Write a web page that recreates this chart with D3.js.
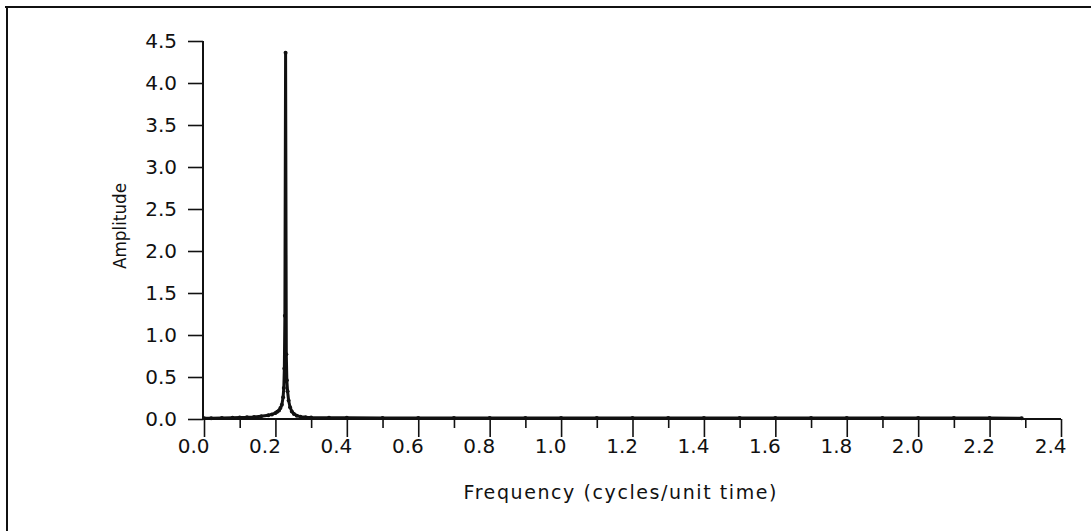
<!DOCTYPE html>
<html>
<head>
<meta charset="utf-8">
<script src="https://cdn.jsdelivr.net/npm/d3@7"></script>
<style>
  html, body { margin: 0; padding: 0; background: #fff; }
  svg { display: block; }
  text { font-family: "DejaVu Sans", sans-serif; fill: #111; }
</style>
</head>
<body>
<svg id="chart" width="1091" height="531"></svg>
<script>
// ---- data ----
const frequency = [
  0.000, 0.020, 0.050, 0.080, 0.100, 0.120, 0.140, 0.160, 0.180, 0.190,
  0.200, 0.205, 0.210, 0.214, 0.218, 0.2215, 0.2235, 0.2250, 0.2265, 0.2285,
  0.2305, 0.2320, 0.2340, 0.2370, 0.2410, 0.2460, 0.2520, 0.2600, 0.2700, 0.2850,
  0.300, 0.350, 0.400, 0.500, 0.600, 0.700, 0.800, 0.900, 1.000, 1.100,
  1.200, 1.300, 1.400, 1.500, 1.600, 1.700, 1.800, 1.900, 2.000, 2.100,
  2.200, 2.290
];
const amplitude = [
  0.010, 0.010, 0.012, 0.014, 0.017, 0.020, 0.025, 0.033, 0.045, 0.055,
  0.070, 0.085, 0.100, 0.130, 0.170, 0.260, 0.370, 0.600, 1.230, 4.360,
  0.770, 0.460, 0.330, 0.220, 0.140, 0.090, 0.060, 0.040, 0.028, 0.020,
  0.017, 0.015, 0.014, 0.013, 0.013, 0.012, 0.012, 0.012, 0.012, 0.012,
  0.012, 0.011, 0.011, 0.011, 0.011, 0.011, 0.011, 0.011, 0.011, 0.011,
  0.011, 0.010
];
const xTicksMajor = [0, 0.2, 0.4, 0.6, 0.8, 1.0, 1.2, 1.4, 1.6, 1.8, 2.0, 2.2, 2.4];
const xTicksMinor = [0.1, 0.3, 0.5, 0.7, 0.9, 1.1, 1.3, 1.5, 1.7, 1.9, 2.1, 2.3];
const yTicks = [0, 0.5, 1.0, 1.5, 2.0, 2.5, 3.0, 3.5, 4.0, 4.5];
const xTitle = "Frequency (cycles/unit time)";
const yTitle = "Amplitude";

// ---- layout ----
const svg = d3.select("#chart");
const x = d3.scaleLinear().domain([0, 2.4]).range([204, 1061]);
const y = d3.scaleLinear().domain([0, 4.5]).range([419, 41]);

// frame (top and left edges)
svg.append("line").attr("x1", 5).attr("x2", 1091).attr("y1", 7).attr("y2", 7)
  .attr("stroke", "#111").attr("stroke-width", 2);
svg.append("line").attr("x1", 7).attr("x2", 7).attr("y1", 6).attr("y2", 531)
  .attr("stroke", "#111").attr("stroke-width", 2);

// y axis
const yAxis = d3.axisLeft(y).tickValues(yTicks).tickSize(15).tickPadding(11)
  .tickFormat(d3.format(".1f"));
const gy = svg.append("g").attr("transform", `translate(${x(0) - 1},0)`).call(yAxis);
gy.select(".domain").attr("d", `M0,${y(0)}V${y(4.5)}`).attr("stroke", "#111").attr("stroke-width", 2);
gy.selectAll(".tick line").attr("stroke", "#111").attr("stroke-width", 1.6);
gy.selectAll(".tick text").style("font-size", "20px").style("font-family", "DejaVu Sans")
  .attr("fill", "#111");

// x axis major
const xAxis = d3.axisBottom(x).tickValues(xTicksMajor).tickSize(18).tickPadding(2)
  .tickFormat(d3.format(".1f"));
const gx = svg.append("g").attr("transform", `translate(0,${y(0)})`).call(xAxis);
gx.select(".domain").attr("d", `M${x(0)},0H${x(2.4)}`).attr("stroke", "#111").attr("stroke-width", 2);
gx.selectAll(".tick line").attr("stroke", "#111").attr("stroke-width", 1.6);
gx.selectAll(".tick text").style("font-size", "20px").style("font-family", "DejaVu Sans")
  .attr("fill", "#111").attr("text-anchor", "end").attr("dx", 5);

// x axis minor
const xAxisMinor = d3.axisBottom(x).tickValues(xTicksMinor).tickSize(9).tickFormat("");
const gxm = svg.append("g").attr("transform", `translate(0,${y(0)})`).call(xAxisMinor);
gxm.select(".domain").remove();
gxm.selectAll(".tick line").attr("stroke", "#111").attr("stroke-width", 1.6);

// axis titles
svg.append("text").attr("x", 620).attr("y", 499).attr("text-anchor", "middle")
  .attr("textLength", 313).attr("lengthAdjust", "spacing")
  .style("font-size", "19px").text(xTitle);
svg.append("text").attr("transform", "translate(126,226) rotate(-90)")
  .attr("text-anchor", "middle").attr("textLength", 86).attr("lengthAdjust", "spacingAndGlyphs")
  .style("font-size", "18px").text(yTitle);

// data
const pts = frequency.map((f, i) => ({ f, a: amplitude[i] }));
const line = d3.line().x(d => x(d.f)).y(d => y(d.a));
svg.append("path").datum(pts).attr("d", line).attr("fill", "none")
  .attr("stroke", "#111").attr("stroke-width", 3).attr("stroke-linejoin", "round");
svg.append("g").selectAll("circle").data(pts).join("circle")
  .attr("cx", d => x(d.f)).attr("cy", d => y(d.a)).attr("r", 2).attr("fill", "#111");
</script>
</body>
</html>
